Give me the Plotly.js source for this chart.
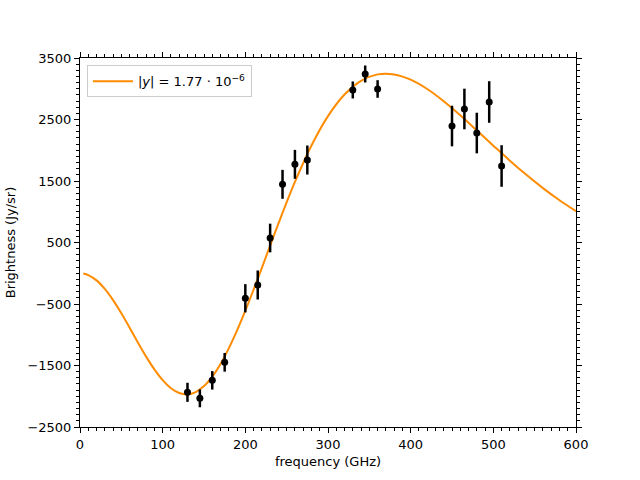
<!DOCTYPE html>
<html>
<head>
<meta charset="utf-8">
<script src="https://cdn.plot.ly/plotly-3.0.1.min.js"></script>
<style>html,body{margin:0;padding:0;background:#fff;}#chart{width:640px;height:480px;}</style>
</head>
<body>
<div id="chart"></div>
<script>
// Measured data points
const freqObs = [130, 145, 160, 175, 200, 215, 230, 245, 260, 275, 330, 345, 360, 450, 465, 480, 495, 510];
const brightObs = [-1936, -2034, -1741, -1448, -407, -191, 573, 1446, 1771, 1841, 2980, 3240, 2996, 2394, 2671, 2280, 2785, 1744];
const errObs = [155, 145, 150, 152, 230, 236, 233, 235, 235, 236, 138, 138, 143, 330, 330, 330, 338, 338];

// Model curve
const freqModel = [4, 10, 20, 30, 40, 50, 60, 70, 80, 90, 100, 110, 120, 130, 140, 150, 160, 170, 180, 190, 200, 210, 220, 230, 240, 260, 280, 300, 320, 340, 360, 380, 400, 420, 440, 460, 480, 500, 520, 540, 560, 580, 600];
const brightModel = [-5, -30, -116, -255, -437, -651, -885, -1125, -1356, -1564, -1739, -1870, -1948, -1970, -1932, -1835, -1680, -1474, -1221, -930, -609, -266, 89, 450, 807, 1484, 2077, 2555, 2906, 3129, 3234, 3233, 3148, 2996, 2797, 2568, 2323, 2075, 1831, 1600, 1384, 1187, 1010];

const legendLabel = '|<i>y</i>| = 1.77 · 10<sup>−6</sup>';

const font = {family: 'DejaVu Sans, sans-serif', size: 13, color: '#000'};

const traces = [
  {
    x: freqModel, y: brightModel, type: 'scatter', mode: 'lines',
    line: {color: '#ff8c00', width: 2, shape: 'spline', smoothing: 1},
    name: legendLabel, showlegend: true
  },
  {
    x: freqObs, y: brightObs, type: 'scatter', mode: 'markers',
    marker: {color: '#000', size: 7},
    error_y: {type: 'data', array: errObs, visible: true, color: '#000', thickness: 2.5, width: 0},
    showlegend: false
  }
];

const axisCommon = {
  showgrid: false, zeroline: false, showline: true, linecolor: '#000', linewidth: 1,
  mirror: 'ticks', ticks: 'outside', ticklen: 5, tickwidth: 1, tickcolor: '#000',
  tickfont: font, automargin: false
};

const layout = {
  width: 640, height: 480,
  margin: {l: 80, r: 64, t: 58, b: 53, pad: 0},
  paper_bgcolor: '#fff', plot_bgcolor: '#fff',
  font: font,
  showlegend: true,
  legend: {
    x: 0.014, y: 0.98, xanchor: 'left', yanchor: 'top',
    bgcolor: 'rgba(255,255,255,0.8)', bordercolor: '#cccccc', borderwidth: 1,
    font: font, tracegroupgap: 0, itemwidth: 40
  },
  xaxis: Object.assign({}, axisCommon, {
    range: [0, 600], tick0: 0, dtick: 100,
    minor: {ticks: 'outside', ticklen: 3, dtick: 10, tickcolor: '#000', tickwidth: 1},
    title: {text: 'frequency (GHz)', font: font, standoff: 6}
  }),
  yaxis: Object.assign({}, axisCommon, {
    range: [-2500, 3500], tick0: -2500, dtick: 1000,
    minor: {ticks: 'outside', ticklen: 3, dtick: 100, tickcolor: '#000', tickwidth: 1},
    title: {text: 'Brightness (Jy/sr)', font: font, standoff: 8}
  })
};

Plotly.newPlot('chart', traces, layout, {displayModeBar: false, staticPlot: true});
</script>
</body>
</html>
